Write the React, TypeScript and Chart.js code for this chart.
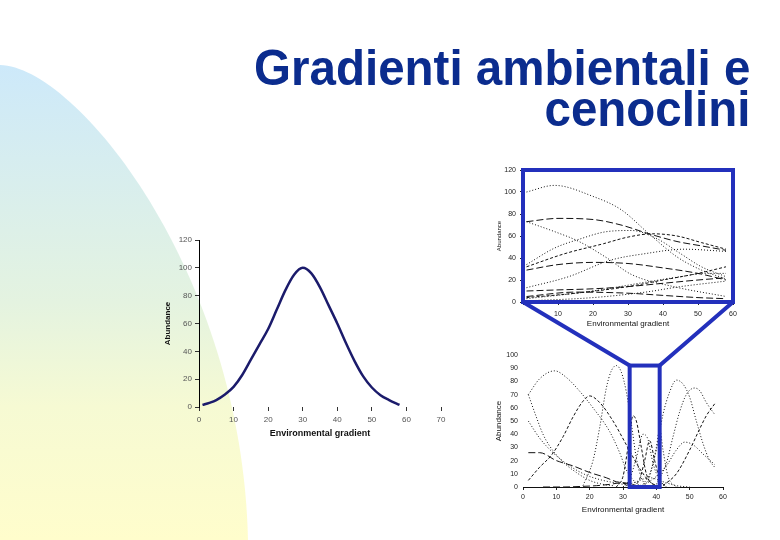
import React, { useEffect, useRef } from "react";
import { Chart, registerables } from "chart.js";

Chart.register(...registerables);

type Pt = [number, number];

// ---------- text ----------
const TITLE_LINES = ["Gradienti ambientali e", "cenoclini"];
const X_TITLE = "Environmental gradient";
const Y_TITLE = "Abundance";

// ---------- main chart (single species response) ----------
const mainGradient = [1, 3, 5, 7.5, 10, 12.5, 15, 17.5, 20, 22.5, 25, 27.5, 30, 32.5, 35, 37.5, 40, 42.5, 45, 47.5, 50, 52.5, 55, 58];
const mainAbundance = [1.5, 3, 5, 9, 14.5, 23, 34, 45, 56, 70, 84, 95, 100, 96, 86, 73, 60, 46, 33, 22, 14, 8.5, 5, 1.5];
const mainXRange = [0, 70, 10];
const mainYRange = [0, 120, 20];

// ---------- top-right chart (cenocline, gentle curves) ----------
const topXRange = [0, 60, 10];
const topYRange = [0, 120, 20];
const topA: Pt[] = [[1, 100], [9, 106], [20, 96], [28, 84], [36, 62], [44, 41], [51, 29], [58, 21]];
const topB: Pt[] = [[1, 73], [10, 76], [20, 75], [28, 70], [36, 62], [44, 55], [51, 51], [58, 47]];
const topC: Pt[] = [[1, 73], [9, 64], [16, 55], [24, 40], [31, 25], [43, 14], [58, 5]];
const topD: Pt[] = [[1, 34], [9, 49], [16, 57], [24, 64], [31, 65], [38, 58], [45, 44], [51, 32], [58, 23]];
const topE: Pt[] = [[1, 32], [12, 44], [23, 53], [30, 59], [37, 62], [44, 60], [51, 54], [58, 48]];
const topF: Pt[] = [[1, 29], [10, 34], [20, 36], [30, 35], [40, 31], [50, 26], [58, 20]];
const topG: Pt[] = [[1, 13], [13, 23], [25, 38], [35, 44], [46, 48], [58, 46]];
const topH: Pt[] = [[1, 4], [15, 8], [30, 14], [40, 20], [50, 26], [58, 32]];
const topI: Pt[] = [[1, 3], [20, 10], [35, 18], [45, 23], [52, 26], [58, 26]];
const topJ: Pt[] = [[1, 5], [15, 9], [30, 8], [40, 6], [50, 4], [58, 3]];
const topK: Pt[] = [[1, 10], [10, 11], [20, 12], [30, 14], [40, 17], [50, 20], [58, 22]];
const topL: Pt[] = [[1, 1], [20, 4], [35, 9], [45, 14], [58, 19]];
const topCurves = [topA, topB, topC, topD, topE, topF, topG, topH, topI, topJ, topK, topL];
const topDashStyle = ["dot", "long", "dot", "dot", "dash", "long", "dot", "dash", "dot", "long", "long", "dot"];

// ---------- bottom-right chart (cenocline, narrow curves) ----------
const lowXRange = [0, 60, 10];
const lowYRange = [0, 100, 10];
const lowA: Pt[] = [[1.6, 70], [5, 82], [9.5, 88], [13, 83], [16.5, 74], [21, 60], [26, 42], [29, 26], [31, 13], [34, 3], [37, 0]];
const lowB: Pt[] = [[1.6, 70], [4, 53], [6, 40], [8, 31], [12, 19], [16, 11], [20, 5], [24, 2], [27, 1]];
const lowC: Pt[] = [[1.6, 5], [5, 15], [8.5, 24], [12, 38], [15, 53], [18, 65], [20, 69], [23, 64], [27, 50], [31, 32], [35, 14], [38, 4], [40, 1]];
const lowD: Pt[] = [[18, 1], [21, 20], [23, 45], [25, 75], [26.5, 88], [28, 92], [29.5, 87], [31, 72], [32.5, 48], [34, 22], [35.5, 7], [37, 1]];
const lowE: Pt[] = [[1.6, 50], [5, 37], [9, 26], [14, 16], [19, 9], [24, 5], [28, 3], [32, 1]];
const lowF: Pt[] = [[1.6, 26], [5, 26], [10, 20], [15, 16], [20, 11], [25, 7], [28, 4], [31, 3], [34, 1]];
const lowG: Pt[] = [[6, 0], [12, 0], [18, 0.5], [22, 1], [26, 2], [29, 3], [32, 2], [36, 0]];
const lowH: Pt[] = [[28, 0], [30, 8], [31.5, 30], [33, 54], [34, 50], [35.5, 30], [37, 10], [39, 2], [41, 0]];
const lowI: Pt[] = [[30, 0], [32, 6], [34, 22], [36, 40], [37.5, 36], [39, 18], [41, 5], [43, 0]];
const lowJ: Pt[] = [[33, 0], [35, 6], [36.5, 20], [38, 35], [39.5, 20], [41, 6], [43, 0]];
const lowK: Pt[] = [[36, 0], [38, 8], [40, 30], [41, 44], [42, 28], [43.5, 8], [46, 0]];
const lowL: Pt[] = [[36, 2], [38, 10], [40, 28], [42, 55], [44, 72], [46, 81], [48, 78], [50, 68], [52, 50], [54, 33], [56, 20], [57.5, 15]];
const lowM: Pt[] = [[40, 2], [43, 18], [45, 38], [47, 57], [49, 70], [51.5, 75], [53, 73], [55, 64], [57.5, 55]];
const lowN: Pt[] = [[42, 1], [46, 10], [50, 28], [53, 44], [55, 54], [57.5, 63]];
const lowO: Pt[] = [[36, 1], [40, 8], [43, 16], [46, 28], [48.5, 34], [51, 32], [54, 25], [57.5, 17]];
const lowP: Pt[] = [[30, 0], [34, 4], [38, 7], [42, 4], [46, 1], [50, 0]];
const lowCurves = [lowA, lowB, lowC, lowD, lowE, lowF, lowG, lowH, lowI, lowJ, lowK, lowL, lowM, lowN, lowO, lowP];
const lowDashStyle = ["dot", "dot", "dash", "dot", "dot", "long", "long", "dash", "dot", "dash", "dot", "dot", "dot", "dash", "dot", "dot"];

// zoom window shown by the funnel (in bottom chart data units)
const zoomWindowX = [32, 41];
const zoomWindowTop = 92;

// ---------- layout / style ----------
const FONT = "'Liberation Sans', Arial, Helvetica, sans-serif";
const BLUE = "#2330bc";
const TITLE_BLUE = "#0b2c8e";
const MAIN_POS = { left: 150, top: 228, width: 300, height: 215 };
const TOP_POS = { left: 480, top: 160, width: 262, height: 172 };
const LOW_POS = { left: 480, top: 345, width: 262, height: 175 };

const DASHES: Record<string, number[]> = { dot: [1, 2], dash: [3, 2], long: [7, 3] };

function curveDataset(points: Pt[], style: string) {
  return {
    data: points.map(([x, y]) => ({ x, y })),
    borderColor: "#111",
    borderWidth: 1,
    borderDash: DASHES[style],
    pointRadius: 0,
    fill: false,
    cubicInterpolationMode: "monotone" as const,
  };
}

function smallChartOptions(p: {
  xr: number[]; yr: number[]; yWidth: number; xHeight: number; padRight: number; padTop: number;
  tickSize: number; xTitleSize: number; yTitleSize: number; yTitlePad: number; xTitlePad: number;
  yTickPad: number; xTickPad: number; yTicks: boolean; yBorder: boolean; xBorder: boolean; hideZeroX: boolean;
}) {
  return {
    responsive: false,
    animation: false as const,
    events: [] as any[],
    layout: { padding: { left: 0, right: p.padRight, top: p.padTop, bottom: 0 } },
    plugins: { legend: { display: false }, tooltip: { enabled: false } },
    scales: {
      x: {
        type: "linear" as const,
        min: p.xr[0], max: p.xr[1],
        ticks: {
          stepSize: p.xr[2], autoSkip: false, maxRotation: 0, padding: p.xTickPad,
          font: { family: FONT, size: p.tickSize }, color: "#222",
          callback: (v: any) => (p.hideZeroX && v === 0 ? "" : String(v)),
        },
        grid: { drawOnChartArea: false, drawTicks: true, tickLength: 3, color: "#222" },
        border: { display: p.xBorder, color: "#111", width: 1 },
        title: { display: true, text: X_TITLE, color: "#111", font: { family: FONT, size: p.xTitleSize }, padding: { top: 0, bottom: p.xTitlePad } },
        afterFit: (s: any) => { s.height = p.xHeight; },
      },
      y: {
        min: p.yr[0], max: p.yr[1],
        ticks: { stepSize: p.yr[2], autoSkip: false, padding: p.yTickPad, font: { family: FONT, size: p.tickSize }, color: "#222" },
        grid: { drawOnChartArea: false, drawTicks: p.yTicks, tickLength: 3, color: "#222" },
        border: { display: p.yBorder, color: "#111", width: 1 },
        title: { display: true, text: Y_TITLE, color: "#111", font: { family: FONT, size: p.yTitleSize }, padding: { top: p.yTitlePad, bottom: 0 } },
        afterFit: (s: any) => { s.width = p.yWidth; },
      },
    },
  };
}

function drawBackground(c: HTMLCanvasElement) {
  const ctx = c.getContext("2d")!;
  ctx.clearRect(0, 0, c.width, c.height);
  const g = ctx.createLinearGradient(0, 65, 0, 540);
  g.addColorStop(0, "#cde9fa");
  g.addColorStop(0.5, "#e4f3e0");
  g.addColorStop(0.72, "#f6fad3");
  g.addColorStop(1, "#fffdcc");
  ctx.fillStyle = g;
  ctx.beginPath();
  ctx.moveTo(0, 65);
  ctx.bezierCurveTo(75, 66, 242, 270, 248, 540);
  ctx.lineTo(0, 540);
  ctx.closePath();
  ctx.fill();
}

export default function App() {
  const bgRef = useRef<HTMLCanvasElement>(null);
  const mainRef = useRef<HTMLCanvasElement>(null);
  const topRef = useRef<HTMLCanvasElement>(null);
  const lowRef = useRef<HTMLCanvasElement>(null);
  const ovRef = useRef<HTMLCanvasElement>(null);

  useEffect(() => {
    drawBackground(bgRef.current!);

    const main = new Chart(mainRef.current!, {
      type: "line",
      data: {
        datasets: [{
          data: mainGradient.map((x, i) => ({ x, y: mainAbundance[i] })),
          borderColor: "#1b1b6b", borderWidth: 2.5, pointRadius: 0, fill: false,
          cubicInterpolationMode: "monotone",
        }],
      },
      options: {
        responsive: false, animation: false, events: [],
        layout: { padding: { left: 0, right: 9, top: 12, bottom: 0 } },
        plugins: { legend: { display: false }, tooltip: { enabled: false } },
        scales: {
          x: {
            type: "linear", min: mainXRange[0], max: mainXRange[1],
            ticks: { stepSize: mainXRange[2], autoSkip: false, maxRotation: 0, padding: 4, font: { family: FONT, size: 8 }, color: "#555" },
            grid: { drawOnChartArea: false, drawTicks: true, tickLength: 4, color: "#333" },
            border: { display: false },
            title: { display: true, text: X_TITLE, color: "#111", font: { family: FONT, size: 9, weight: "bold" }, padding: { top: 0, bottom: 3.6 } },
            afterFit: (s: any) => { s.height = 36; },
          },
          y: {
            min: mainYRange[0], max: mainYRange[1],
            ticks: { stepSize: mainYRange[2], autoSkip: false, padding: 3, font: { family: FONT, size: 8 }, color: "#555" },
            grid: { drawOnChartArea: false, drawTicks: true, tickLength: 4, color: "#333" },
            border: { display: true, color: "#000", width: 1 },
            title: { display: true, text: Y_TITLE, color: "#111", font: { family: FONT, size: 8, weight: "bold" }, padding: { top: 13, bottom: 0 } },
            afterFit: (s: any) => { s.width = 49; },
          },
        },
      } as any,
    });

    const top = new Chart(topRef.current!, {
      type: "line",
      data: { datasets: topCurves.map((c, i) => curveDataset(c, topDashStyle[i])) },
      options: smallChartOptions({
        xr: topXRange, yr: topYRange, yWidth: 43, xHeight: 30, padRight: 9, padTop: 10,
        tickSize: 7, xTitleSize: 8, yTitleSize: 6, yTitlePad: 16, xTitlePad: 3,
        yTickPad: 4, xTickPad: 5, yTicks: true, yBorder: true, xBorder: true, hideZeroX: true,
      }) as any,
    });

    const low = new Chart(lowRef.current!, {
      type: "line",
      data: { datasets: lowCurves.map((c, i) => curveDataset(c, lowDashStyle[i])) },
      options: smallChartOptions({
        xr: lowXRange, yr: lowYRange, yWidth: 43, xHeight: 33, padRight: 19, padTop: 10,
        tickSize: 7, xTitleSize: 8, yTitleSize: 8, yTitlePad: 13.8, xTitlePad: 5.8,
        yTickPad: 5, xTickPad: 3, yTicks: false, yBorder: false, xBorder: true, hideZeroX: false,
      }) as any,
    });

    // overlay: zoom rectangles and funnel
    const ov = ovRef.current!;
    const ctx = ov.getContext("2d")!;
    ctx.clearRect(0, 0, ov.width, ov.height);
    const ca = top.chartArea;
    const tL = TOP_POS.left + ca.left, tR = TOP_POS.left + ca.right;
    const tT = TOP_POS.top + ca.top, tB = TOP_POS.top + ca.bottom;
    const lx = low.scales.x, ly = low.scales.y;
    const rL = LOW_POS.left + lx.getPixelForValue(zoomWindowX[0]);
    const rR = LOW_POS.left + lx.getPixelForValue(zoomWindowX[1]);
    const rT = LOW_POS.top + ly.getPixelForValue(zoomWindowTop);
    const rB = LOW_POS.top + ly.getPixelForValue(0);
    ctx.strokeStyle = BLUE;
    ctx.lineWidth = 4;
    ctx.lineJoin = "miter";
    ctx.strokeRect(tL, tT, tR - tL, tB - tT);
    ctx.strokeRect(rL, rT, rR - rL, rB - rT);
    ctx.beginPath();
    ctx.moveTo(tL, tB);
    ctx.lineTo(rL, rT);
    ctx.moveTo(tR, tB);
    ctx.lineTo(rR, rT);
    ctx.stroke();

    return () => {
      main.destroy();
      top.destroy();
      low.destroy();
    };
  }, []);

  const abs = (p: { left: number; top: number; width: number; height: number }, z: number): React.CSSProperties => ({
    position: "absolute", left: p.left, top: p.top, width: p.width, height: p.height, zIndex: z,
  });

  return (
    <div style={{ position: "absolute", left: 0, top: 0, width: 780, height: 540, overflow: "hidden", background: "#fff" }}>
      <canvas ref={bgRef} width={780} height={540} style={abs({ left: 0, top: 0, width: 780, height: 540 }, 0)} />
      <div
        style={{
          position: "absolute", right: 30, top: 48, zIndex: 1, textAlign: "right",
          fontFamily: FONT, fontWeight: "bold", fontSize: 50, lineHeight: "41px", color: TITLE_BLUE, whiteSpace: "nowrap",
          transform: "scaleX(0.95)", transformOrigin: "right top",
        }}
      >
        {TITLE_LINES.map((t) => (<div key={t}>{t}</div>))}
      </div>
      <canvas ref={mainRef} width={MAIN_POS.width} height={MAIN_POS.height} style={abs(MAIN_POS, 1)} />
      <canvas ref={topRef} width={TOP_POS.width} height={TOP_POS.height} style={abs(TOP_POS, 1)} />
      <canvas ref={lowRef} width={LOW_POS.width} height={LOW_POS.height} style={abs(LOW_POS, 1)} />
      <canvas ref={ovRef} width={780} height={540} style={{ ...abs({ left: 0, top: 0, width: 780, height: 540 }, 2), pointerEvents: "none" }} />
    </div>
  );
}
